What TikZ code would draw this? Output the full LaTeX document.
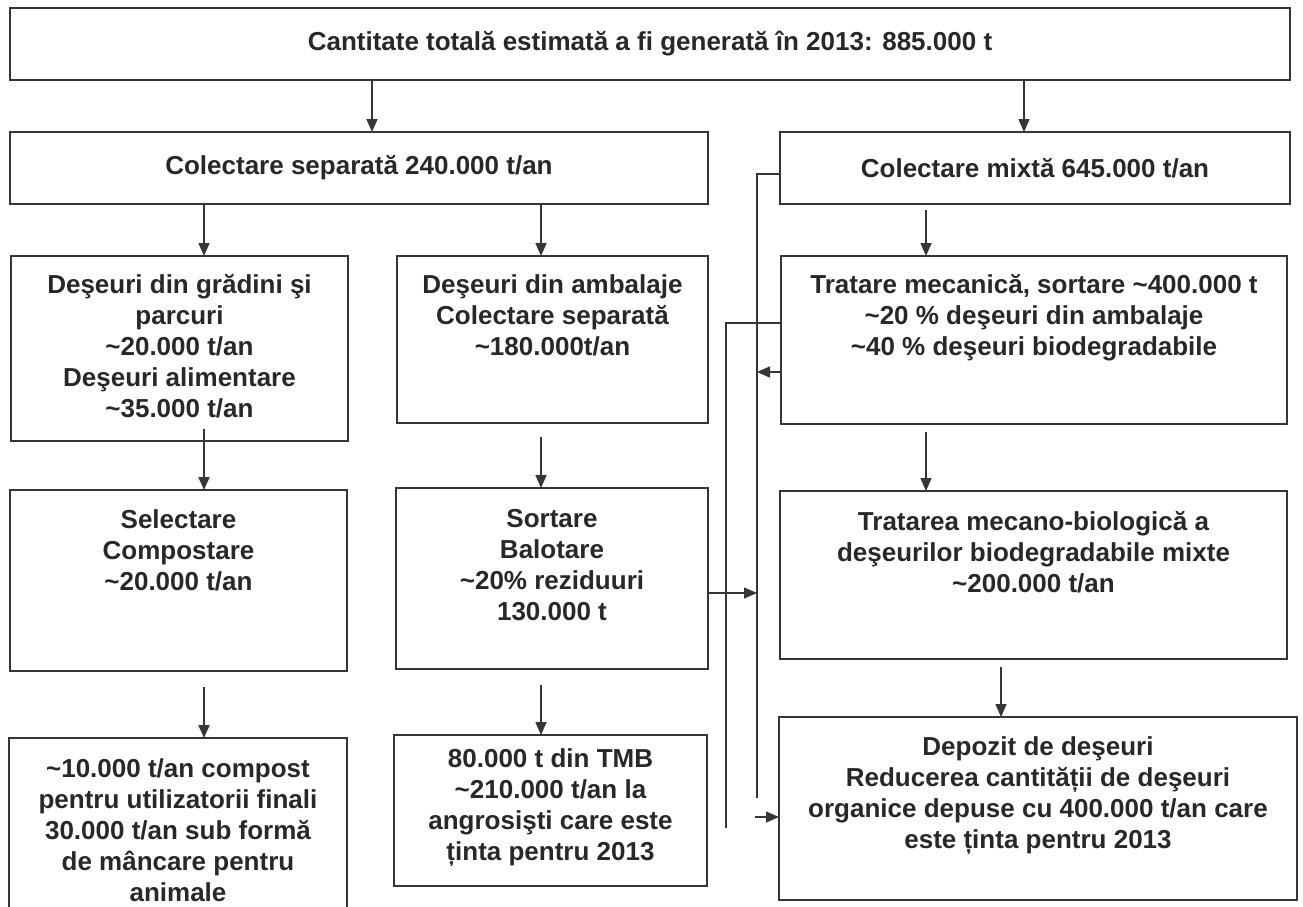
\documentclass[tikz,border=0pt]{standalone}
\usepackage{fontspec}
\setmainfont{Liberation Sans}
\usetikzlibrary{arrows.meta}
\definecolor{ink}{HTML}{282828}
\definecolor{edge}{HTML}{363636}
\tikzset{
  box/.style={draw=edge, line width=1.8pt, anchor=north west, inner sep=0pt, outer sep=0pt},
  lbl/.style={inner sep=0pt, align=center, text=ink, font=\bfseries\fontsize{26}{31}\selectfont},
  toplbl/.style={lbl, anchor=north},
  flow/.style={draw=edge, line width=1.6pt, -{Triangle[length=13pt,width=11pt]}},
  wire/.style={draw=edge, line width=1.6pt},
}
\begin{document}
\begin{tikzpicture}[x=1pt,y=-1pt]
\clip (0,0) rectangle (1303,907);
\fill[white] (0,0) rectangle (1303,907);

% boxes
\node[box, minimum width=1280pt, minimum height=72pt]  (top) at (10,8) {};
\node[box, minimum width=698pt,  minimum height=72pt]  (sep) at (10,132) {};
\node[box, minimum width=510pt,  minimum height=72pt]  (mix) at (780,132) {};
\node[box, minimum width=337pt,  minimum height=185pt] (gr)  at (11,256) {};
\node[box, minimum width=311pt,  minimum height=167pt] (amb) at (397,256) {};
\node[box, minimum width=506pt,  minimum height=168pt] (tm)  at (781,256) {};
\node[box, minimum width=337pt,  minimum height=181pt] (sel) at (10,490) {};
\node[box, minimum width=312pt,  minimum height=181pt] (sor) at (396,488) {};
\node[box, minimum width=507pt,  minimum height=168pt] (tmb) at (780,491) {};
\node[box, minimum width=338pt,  minimum height=190pt] (fin1) at (9,738) {};
\node[box, minimum width=313pt,  minimum height=151pt] (fin2) at (394,735) {};
\node[box, minimum width=518pt,  minimum height=183pt] (dep) at (779,717) {};

% texts
\node[lbl] (top-t) at (top.center) {Cantitate totală estimată a fi generată în 2013: 885.000 t};
\node[lbl] (sep-t) at (sep.center) {Colectare separată 240.000 t/an};
\node[lbl] (mix-t) at (mix.center) {Colectare mixtă 645.000 t/an};
\node[toplbl] (gr-t) at ([yshift=-18pt]gr.north) {Deşeuri din grădini şi\\parcuri\\\textasciitilde20.000 t/an\\Deşeuri alimentare\\\textasciitilde35.000 t/an};
\node[toplbl] (amb-t) at ([yshift=-18pt]amb.north) {Deşeuri din ambalaje\\Colectare separată\\\textasciitilde180.000t/an};
\node[toplbl] (tm-t) at ([yshift=-18pt]tm.north) {Tratare mecanică, sortare \textasciitilde400.000 t\\\textasciitilde20 \% deşeuri din ambalaje\\\textasciitilde40 \% deşeuri biodegradabile};
\node[toplbl] (sel-t) at ([yshift=-19pt]sel.north) {Selectare\\Compostare\\\textasciitilde20.000 t/an};
\node[toplbl] (sor-t) at ([yshift=-21pt]sor.north) {Sortare\\Balotare\\\textasciitilde20\% reziduuri\\130.000 t};
\node[toplbl] (tmb-t) at ([yshift=-20pt]tmb.north) {Tratarea mecano-biologică a\\deşeurilor biodegradabile mixte\\\textasciitilde200.000 t/an};
\node[toplbl] (fin1-t) at ([yshift=-20pt]fin1.north) {\textasciitilde10.000 t/an compost\\pentru utilizatorii finali\\30.000 t/an sub formă\\de mâncare pentru\\animale};
\node[toplbl] (fin2-t) at ([yshift=-13pt]fin2.north) {80.000 t din TMB\\\textasciitilde210.000 t/an la\\angrosişti care este\\ținta pentru 2013};
\node[toplbl] (dep-t) at ([yshift=-19pt]dep.north) {Depozit de deşeuri\\Reducerea cantității de deşeuri\\organice depuse cu 400.000 t/an care\\este ținta pentru 2013};

% column guides for the vertical arrows
\coordinate (xa) at (372,0);
\coordinate (xb) at (1024,0);
\coordinate (xc) at (204,0);
\coordinate (xd) at (541,0);
\coordinate (xe) at (926,0);
\coordinate (xf) at (1001,0);
\coordinate (xg) at (757,0);
\coordinate (xh) at (726,0);

% downward flow
\draw[flow] (top.south -| xa) -- (sep.north -| xa);
\draw[flow] (top.south -| xb) -- (mix.north -| xb);
\draw[flow] (sep.south -| xc) -- (gr.north -| xc);
\draw[flow] (sep.south -| xd) -- (amb.north -| xd);
\draw[flow] ([yshift=-6pt]mix.south -| xe) -- (tm.north -| xe);
\draw[flow] ([yshift=12pt]gr.south -| xc) -- (sel.north -| xc);
\draw[flow] ([yshift=-14pt]amb.south -| xd) -- (sor.north -| xd);
\draw[flow] ([yshift=-8pt]tm.south -| xe) -- (tmb.north -| xe);
\draw[flow] ([yshift=-16pt]sel.south -| xc) -- (fin1.north -| xc);
\draw[flow] ([yshift=-16pt]sor.south -| xd) -- (fin2.north -| xd);
\draw[flow] ([yshift=-8pt]tmb.south -| xf) -- (dep.north -| xf);

% side bus lines towards the landfill
\coordinate (m1) at (757,798);
\coordinate (m2) at (755,817);
\coordinate (t1) at (726,828);
\draw[wire] ([yshift=-6pt]mix.west) -| (m1);
\draw[wire] ([yshift=17pt]tm.west) -| (t1);
\draw[flow] ([yshift=-32pt]tm.west) -- ([yshift=-32pt]tm.west -| xg);
\draw[flow, line width=1.1pt] ([yshift=-14.5pt]sor.east) -- ([yshift=-14.5pt]sor.east -| xg);
\draw[flow] (m2) -- (dep.west |- m2);
\end{tikzpicture}
\end{document}
